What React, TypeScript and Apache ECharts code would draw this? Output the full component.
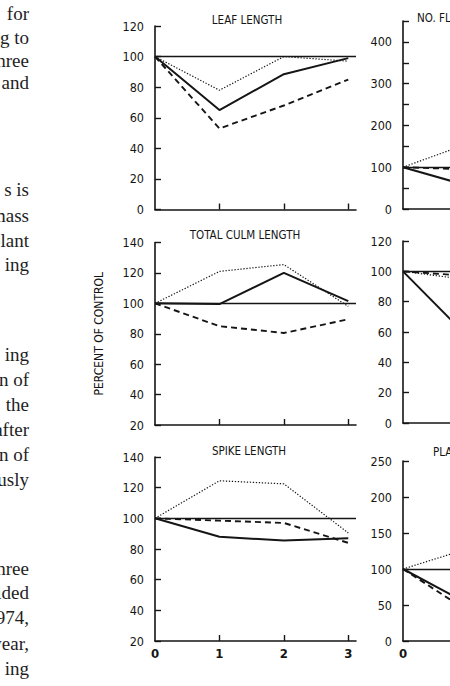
import React, { useEffect, useRef } from "react";
import * as echarts from "echarts";

// Days after treatment (x) and response as percent of control (y)
const days = [0, 1, 2, 3];
const controlLevel = [100];

// LEAF LENGTH
const leafSolid = [100, 65, 88.5, 99];
const leafDotted = [100, 78, 100, 97];
const leafDashed = [100, 53, 68, 85];

// TOTAL CULM LENGTH
const culmSolid = [100, 99.5, 120, 101.5];
const culmDotted = [100, 121, 125.5, 98];
const culmDashed = [100, 85, 80.5, 89.5];

// SPIKE LENGTH
const spikeSolid = [100, 88, 85.5, 87];
const spikeDotted = [100, 124.5, 122.5, 90.5];
const spikeDashed = [100, 98.5, 97, 84];

// Second column (only the first day is within the page)
const floretSolid = [100, 56];
const floretDotted = [100, 156];
const floretDashed = [100, 95];
const midSolid = [100, 57];
const midDotted = [100, 94.5];
const midDashed = [100, 97];
const plantSolid = [100, 52];
const plantDotted = [100, 128];
const plantDashed = [100, 42];

// Panel titles
const titles = ["LEAF LENGTH", "TOTAL CULM LENGTH", "SPIKE LENGTH"];
const rightTitles = ["NO. FLORETS", "PLANT WEIGHT"];
const yAxisTitle = "PERCENT OF CONTROL";

// Running text of the neighbouring page column
const textLines = [
  "for", "ng to", "three", "and",
  "s is", "mass", "plant", "ing",
  "ing", "on of", "the", "after", "on of", "ously",
  "three", "ided", "1974,", "year,", "ing",
];
const textLineY = [13, 37, 60, 82, 189, 215, 240, 264, 354, 379, 404, 429, 454, 479, 568, 592, 617, 643, 668];

const INK = "#151515";
const NARROW = '"Liberation Sans Narrow", "DejaVu Sans Condensed", "Roboto Condensed", "Liberation Sans", Arial, sans-serif';

const pairs = (vals: number[]) => vals.map((v, i) => [days[i], v]);

// The figure is wider than the visible page; the frame crops it.
const PAGE_W = 450;
const PAGE_H = 686;
const FIGURE_W = 640;

export default function App() {
  const ref = useRef<HTMLDivElement>(null);

  useEffect(() => {
    document.body.style.margin = "0";
    document.body.style.overflow = "hidden";
    if (!ref.current) return;
    const chart = echarts.init(ref.current, undefined, { renderer: "svg" });

    const unit = 64.3; // pixels per day
    const xMax = 3.12;
    const gridW = Math.round(xMax * unit);

    // [left, top, height, yMin, yMax, yInterval]
    const panels: [number, number, number, number, number, number][] = [
      [155, 26, 183.5, 0, 120, 20],
      [155, 242.5, 182.5, 20, 140, 20],
      [155, 457, 184, 20, 140, 20],
      [403, 21, 188, 0, 450, 50],
      [403, 241, 182, 0, 120, 20],
      [403, 461, 180, 0, 250, 50],
    ];

    const grids = panels.map(([left, top, height]) => ({
      left, top, height, width: gridW, containLabel: false,
    }));

    const xAxes = panels.map((_, i) => ({
      type: "value",
      gridIndex: i,
      min: 0,
      max: xMax,
      interval: 1,
      splitLine: { show: false },
      axisLine: { show: true, lineStyle: { color: INK, width: 1.6 } },
      axisTick: { show: true, inside: true, length: 6, lineStyle: { color: INK, width: 1.4 }, customValues: [1, 2, 3] },
      axisLabel: {
        show: i === 2 || i === 5,
        customValues: [0, 1, 2, 3],
        margin: 6,
        color: INK,
        fontSize: 13,
        fontWeight: "bold",
        fontFamily: NARROW,
      },
    }));

    const yAxes = panels.map(([, , , min, max, interval], i) => ({
      type: "value",
      gridIndex: i,
      min, max, interval,
      splitLine: { show: false },
      axisLine: { show: true, lineStyle: { color: INK, width: 1.6 } },
      axisTick: { show: true, inside: true, length: 6, lineStyle: { color: INK, width: 1.4 } },
      axisLabel: {
        margin: 11,
        color: INK,
        fontSize: 12.5,
        fontFamily: NARROW,
        formatter: (v: number) => (i === 3 && v % 100 !== 0 ? "" : String(v)),
      },
      name: i === 1 ? yAxisTitle : "",
      nameLocation: "middle",
      nameGap: 50,
      nameRotate: 90,
      nameTextStyle: { color: INK, fontSize: 12, fontFamily: NARROW },
    }));

    const solid = { color: INK, width: 2, type: "solid" };
    const dotted = { color: INK, width: 1.2, type: [1.3, 1.7] };
    const dashed = { color: INK, width: 1.9, type: [6, 4] };

    const groups: [number[], number[], number[]][] = [
      [leafSolid, leafDotted, leafDashed],
      [culmSolid, culmDotted, culmDashed],
      [spikeSolid, spikeDotted, spikeDashed],
      [floretSolid, floretDotted, floretDashed],
      [midSolid, midDotted, midDashed],
      [plantSolid, plantDotted, plantDashed],
    ];

    const series: any[] = [];
    groups.forEach(([s, d, da], i) => {
      const base = { type: "line", xAxisIndex: i, yAxisIndex: i, symbol: "none", silent: true };
      series.push({
        ...base, data: pairs(s), lineStyle: solid,
        markLine: {
          silent: true, symbol: "none", label: { show: false },
          lineStyle: { color: INK, width: 1.3, type: "solid" },
          data: controlLevel.map((v) => ({ yAxis: v })),
        },
      });
      series.push({ ...base, data: pairs(d), lineStyle: dotted });
      series.push({ ...base, data: pairs(da), lineStyle: dashed });
    });

    const titleText = (text: string, x: number, y: number, align: string) => ({
      type: "text", x, y,
      style: { text, fill: INK, fontSize: 11.5, fontFamily: NARROW, textAlign: align, textVerticalAlign: "middle" },
    });

    const graphic: any[] = [
      titleText(titles[0], 247, 20, "center"),
      titleText(titles[1], 245, 235, "center"),
      titleText(titles[2], 249, 451, "center"),
      titleText(rightTitles[0], 417, 18, "left"),
      titleText(rightTitles[1], 433, 452, "left"),
      ...textLines.map((t, i) => ({
        type: "text", x: 29, y: textLineY[i],
        style: { text: t, fill: "#1e1e1e", fontSize: 19, fontFamily: '"Liberation Serif", "Times New Roman", serif', textAlign: "right", textVerticalAlign: "middle" },
      })),
    ];

    chart.setOption({
      animation: false,
      backgroundColor: "#ffffff",
      grid: grids,
      xAxis: xAxes,
      yAxis: yAxes,
      series,
      graphic,
    });

    return () => chart.dispose();
  }, []);

  return (
    <div style={{ position: "absolute", left: 0, top: 0, width: PAGE_W, height: PAGE_H, overflow: "hidden", background: "#fff" }}>
      <div ref={ref} style={{ width: FIGURE_W, height: PAGE_H }} />
    </div>
  );
}
